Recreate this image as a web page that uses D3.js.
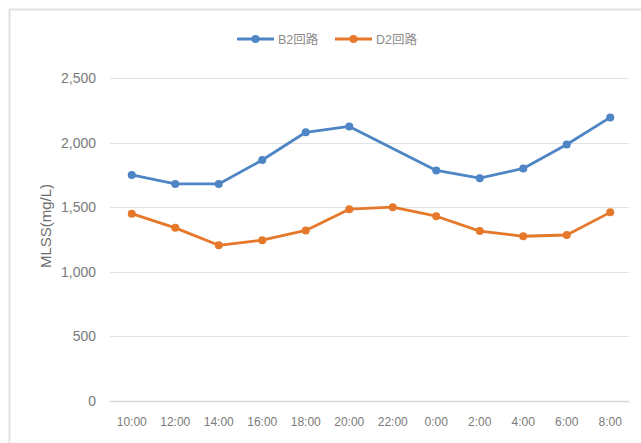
<!DOCTYPE html>
<html>
<head>
<meta charset="utf-8">
<script src="https://cdn.jsdelivr.net/npm/d3@7"></script>
<style>
  body { margin: 0; background: #fff; }
  text { font-family: "Liberation Sans", "Noto Sans CJK SC", sans-serif; }
</style>
</head>
<body>
<div id="chart"></div>
<script>
var hours = ["10:00", "12:00", "14:00", "16:00", "18:00", "20:00", "22:00", "0:00", "2:00", "4:00", "6:00", "8:00"];
var b2Values = [1750, 1680, 1680, 1865, 2080, 2125, null, 1785, 1725, 1800, 1985, 2195];
var d2Values = [1450, 1340, 1205, 1245, 1320, 1485, 1500, 1430, 1315, 1275, 1285, 1460];
var yTicks = [0, 500, 1000, 1500, 2000, 2500];

var seriesList = [
    {name: "B2回路", values: b2Values, color: "#4e85c5"},
    {name: "D2回路", values: d2Values, color: "#e5782a"}
];

var width = 641, height = 443;
var margin = {top: 78, right: 9, bottom: 42, left: 110};

var svg = d3.select("#chart")
    .append("svg")
    .attr("width", width)
    .attr("height", height);

// chart frame
svg.append("rect")
    .attr("x", 9.5)
    .attr("y", 9.5)
    .attr("width", width + 20)
    .attr("height", height + 20)
    .attr("fill", "none")
    .attr("stroke", "#e2e2e2")
    .attr("stroke-width", 2);

var x = d3.scaleBand()
    .domain(hours)
    .range([margin.left, width - margin.right]);

var y = d3.scaleLinear()
    .domain([0, 2500])
    .range([height - margin.bottom, margin.top]);

// grid
svg.append("g")
    .selectAll("line")
    .data(yTicks)
    .enter().append("line")
    .attr("x1", margin.left)
    .attr("x2", width - margin.right - 3)
    .attr("y1", function (d) { return Math.round(y(d)) + 0.5; })
    .attr("y2", function (d) { return Math.round(y(d)) + 0.5; })
    .attr("stroke", function (d) { return d === 0 ? "#d6d6d6" : "#e3e3e3"; })
    .attr("stroke-width", function (d) { return d === 0 ? 1.5 : 1; });

// y axis
var yAxis = svg.append("g")
    .attr("transform", "translate(" + margin.left + ",0)")
    .call(d3.axisLeft(y).tickValues(yTicks).tickSize(0).tickPadding(14).tickFormat(d3.format(",")));
yAxis.select(".domain").remove();
yAxis.selectAll("text")
    .attr("fill", "#7a7a7a")
    .style("font-size", "14px");

// x axis
var xAxis = svg.append("g")
    .attr("transform", "translate(0," + (height - margin.bottom) + ")")
    .call(d3.axisBottom(x).tickSize(0).tickPadding(16));
xAxis.select(".domain").remove();
xAxis.selectAll("text")
    .attr("fill", "#7a7a7a")
    .style("font-size", "12px");

svg.append("text")
    .attr("transform", "translate(51,226) rotate(-90)")
    .attr("text-anchor", "middle")
    .attr("fill", "#6f6f6f")
    .style("font-size", "15px")
    .text("MLSS(mg/L)");

var line = d3.line()
    .x(function (d) { return x(d.hour) + x.bandwidth() / 2; })
    .y(function (d) { return y(d.value); });

seriesList.forEach(function (s) {
    var pts = hours.map(function (h, i) {
        return {hour: h, value: s.values[i]};
    }).filter(function (d) { return d.value !== null; });

    svg.append("path")
        .datum(pts)
        .attr("fill", "none")
        .attr("stroke", s.color)
        .attr("stroke-width", 2.8)
        .attr("stroke-linejoin", "round")
        .attr("d", line);

    svg.append("g")
        .selectAll("circle")
        .data(pts)
        .enter().append("circle")
        .attr("cx", function (d) { return x(d.hour) + x.bandwidth() / 2; })
        .attr("cy", function (d) { return y(d.value); })
        .attr("r", 4)
        .attr("fill", s.color);
});

// legend
var legendX = [237, 335];
var legend = svg.append("g");
seriesList.forEach(function (s, i) {
    var g = legend.append("g")
        .attr("transform", "translate(" + legendX[i] + ",39)");
    g.append("line")
        .attr("x1", 0)
        .attr("x2", 37)
        .attr("stroke", s.color)
        .attr("stroke-width", 2.8);
    g.append("circle")
        .attr("cx", 18.5)
        .attr("r", 4)
        .attr("fill", s.color);
    g.append("text")
        .attr("x", 41)
        .attr("y", 4.5)
        .attr("fill", "#8a8a8a")
        .style("font-size", "12.5px")
        .text(s.name);
});
</script>
</body>
</html>
